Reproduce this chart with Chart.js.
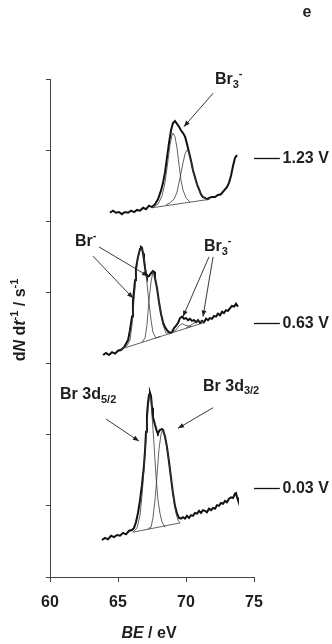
<!DOCTYPE html>
<html><head><meta charset="utf-8">
<script src="https://cdn.jsdelivr.net/npm/chart.js@4.4.1/dist/chart.umd.min.js"></script>
<style>html,body{margin:0;padding:0;background:#fff;}canvas{display:block;}</style>
</head><body>
<canvas id="c" width="332" height="644"></canvas>
<script>
// ---------- DATA (BE / eV , dN dt^-1 / s^-1 in arbitrary offset units) ----------
const xTicks = [60, 65, 70, 75];
const potentials = ["1.23 V", "0.63 V", "0.03 V"];
const potentialLevels = [5.89, 3.57, 1.25];

// 1.23 V
const env123 = [[64.41,5.12],[64.63,5.15],[64.85,5.12],[65.07,5.13],[65.29,5.10],[65.51,5.13],[65.74,5.12],[65.96,5.15],[66.18,5.13],[66.40,5.16],[66.62,5.15],[66.84,5.19],[67.06,5.17],[67.28,5.22],[67.50,5.20],[67.72,5.24],[67.94,5.31],[68.16,5.43],[68.31,5.54],[68.46,5.69],[68.60,5.89],[68.75,6.10],[68.90,6.28],[69.04,6.38],[69.19,6.41],[69.34,6.37],[69.49,6.33],[69.63,6.28],[69.78,6.24],[69.93,6.19],[70.07,6.09],[70.22,5.97],[70.37,5.85],[70.51,5.72],[70.66,5.62],[70.81,5.52],[70.96,5.45],[71.10,5.38],[71.25,5.34],[71.40,5.33],[71.54,5.31],[71.69,5.33],[71.91,5.34],[72.13,5.34],[72.35,5.37],[72.57,5.38],[72.79,5.43],[73.01,5.48],[73.16,5.54],[73.31,5.64],[73.46,5.78],[73.60,5.89],[73.75,5.93]];
const cmpA123 = [[67.50,5.19],[67.94,5.24],[68.24,5.36],[68.46,5.55],[68.68,5.86],[68.82,6.07],[68.97,6.21],[69.04,6.24],[69.19,6.19],[69.34,6.03],[69.49,5.79],[69.63,5.58],[69.78,5.44],[70.00,5.33],[70.29,5.27]];
const cmpB123 = [[68.53,5.23],[68.82,5.26],[69.12,5.31],[69.34,5.41],[69.56,5.61],[69.78,5.82],[69.93,5.95],[70.07,6.00],[70.22,5.97],[70.37,5.85],[70.51,5.72],[70.66,5.61],[70.81,5.51],[71.03,5.41],[71.25,5.34],[71.54,5.31]];
const base123 = [[67.50,5.19],[71.76,5.31]];

// 0.63 V
const env063 = [[63.90,3.12],[64.12,3.15],[64.34,3.12],[64.56,3.16],[64.78,3.14],[65.00,3.18],[65.22,3.19],[65.44,3.23],[65.59,3.28],[65.74,3.33],[65.88,3.47],[66.03,3.66],[66.10,3.89],[66.18,4.03],[66.25,4.17],[66.32,4.34],[66.47,4.50],[66.62,4.61],[66.69,4.64],[66.76,4.63],[66.84,4.55],[66.91,4.46],[66.99,4.34],[67.06,4.26],[67.13,4.22],[67.28,4.23],[67.43,4.27],[67.57,4.30],[67.65,4.29],[67.72,4.20],[67.87,4.06],[68.01,3.87],[68.16,3.70],[68.31,3.58],[68.46,3.51],[68.60,3.47],[68.82,3.43],[68.97,3.44],[69.12,3.50],[69.26,3.53],[69.41,3.57],[69.56,3.64],[69.71,3.66],[69.85,3.63],[70.00,3.64],[70.15,3.61],[70.29,3.63],[70.44,3.60],[70.59,3.61],[70.74,3.58],[70.88,3.61],[71.03,3.57],[71.18,3.60],[71.32,3.58],[71.47,3.63],[71.62,3.61],[71.76,3.64],[71.91,3.63],[72.06,3.67],[72.21,3.66],[72.35,3.70],[72.50,3.68],[72.65,3.73],[72.79,3.71],[72.94,3.75],[73.09,3.74],[73.24,3.78],[73.38,3.81],[73.53,3.80],[73.68,3.84],[73.82,3.80]];
const cmpA063 = [[65.29,3.21],[65.66,3.25],[65.88,3.33],[66.03,3.54],[66.18,3.89],[66.32,4.25],[66.47,4.48],[66.62,4.60],[66.73,4.64],[66.84,4.57],[66.99,4.39],[67.13,4.13],[67.28,3.85],[67.43,3.61],[67.57,3.44],[67.79,3.36],[68.09,3.38]];
const cmpB063 = [[66.76,3.30],[66.99,3.36],[67.13,3.54],[67.28,3.89],[67.43,4.15],[67.57,4.29],[67.72,4.23],[67.87,4.06],[68.01,3.87],[68.16,3.70],[68.31,3.54],[68.53,3.43],[68.82,3.43]];
const cmpC063 = [[68.97,3.44],[69.26,3.47],[69.49,3.53],[69.71,3.56],[69.93,3.54],[70.15,3.53],[70.37,3.52]];
const cmpD063 = [[70.00,3.50],[70.29,3.53],[70.59,3.57],[70.88,3.60],[71.18,3.59],[71.47,3.59]];
const base063 = [[65.00,3.19],[71.40,3.58]];

// 0.03 V
const env003 = [[63.82,0.52],[64.04,0.55],[64.26,0.53],[64.49,0.58],[64.71,0.56],[64.93,0.59],[65.15,0.58],[65.37,0.62],[65.59,0.60],[65.81,0.65],[66.03,0.66],[66.18,0.69],[66.32,0.77],[66.47,0.90],[66.62,1.08],[66.76,1.29],[66.91,1.57],[66.99,1.79],[67.06,2.04],[67.13,2.28],[67.21,2.46],[67.28,2.56],[67.35,2.59],[67.43,2.54],[67.50,2.38],[67.57,2.25],[67.72,2.14],[67.87,2.04],[67.94,2.02],[68.09,2.07],[68.24,2.08],[68.31,2.07],[68.46,1.97],[68.60,1.83],[68.75,1.62],[68.90,1.39],[69.04,1.18],[69.19,1.00],[69.34,0.89],[69.49,0.83],[69.63,0.82],[69.78,0.84],[69.93,0.82],[70.07,0.86],[70.22,0.83],[70.37,0.87],[70.51,0.86],[70.66,0.90],[70.81,0.89],[70.96,0.93],[71.10,0.90],[71.25,0.94],[71.40,0.93],[71.54,0.91],[71.69,0.96],[71.84,0.94],[71.99,0.97],[72.13,0.96],[72.28,1.01],[72.43,1.00],[72.57,1.04],[72.72,1.03],[72.87,1.07],[73.01,1.05],[73.16,1.10],[73.31,1.12],[73.46,1.11],[73.60,1.17],[73.68,1.18],[73.75,1.12],[73.82,1.08]];
const cmpA003 = [[66.10,0.63],[66.40,0.69],[66.62,0.87],[66.76,1.13],[66.91,1.50],[67.06,1.93],[67.21,2.35],[67.32,2.56],[67.43,2.49],[67.50,2.28],[67.65,1.86],[67.79,1.43],[67.94,1.08],[68.09,0.89],[68.24,0.77],[68.46,0.70]];
const cmpB003 = [[67.21,0.68],[67.43,0.70],[67.57,0.83],[67.72,1.08],[67.87,1.43],[68.01,1.79],[68.16,2.00],[68.27,2.07],[68.38,2.02],[68.53,1.90],[68.68,1.72],[68.82,1.50],[68.97,1.27],[69.12,1.05],[69.26,0.90],[69.41,0.80],[69.56,0.76]];
const base003 = [[66.10,0.63],[69.56,0.76]];

// ---------- CHART ----------
const FONT = '"Liberation Sans", Arial, sans-serif';
const TXT = '#1e1e1e';
const pts = a => a.map(p => ({x: p[0], y: p[1]}));
const thin = d => ({data: pts(d), borderColor: '#3a3a3a', borderWidth: 0.8, pointRadius: 0, fill: false, tension: 0});
const thick = d => ({data: pts(d), borderColor: '#111', borderWidth: 2, pointRadius: 0, fill: false, tension: 0});

function rich(ctx, x, y, parts, size, align) {
  const fontOf = p => {
    const s = p[1] === 'sub' || p[1] === 'sup' ? Math.round(size * 0.68) : size;
    return (p[1] === 'i' ? 'italic ' : '') + 'bold ' + s + 'px ' + FONT;
  };
  let w = 0;
  parts.forEach(p => { ctx.font = fontOf(p); w += ctx.measureText(p[0]).width; });
  let cx = align === 'center' ? x - w / 2 : x;
  ctx.textAlign = 'left';
  ctx.textBaseline = 'alphabetic';
  parts.forEach(p => {
    ctx.font = fontOf(p);
    let dy = 0;
    if (p[1] === 'sub') dy = size * 0.22;
    if (p[1] === 'sup') dy = -size * 0.42;
    ctx.fillText(p[0], cx, y + dy);
    cx += ctx.measureText(p[0]).width;
  });
}
function arrow(ctx, x1, y1, x2, y2) {
  ctx.beginPath(); ctx.moveTo(x1, y1); ctx.lineTo(x2, y2); ctx.stroke();
  const a = Math.atan2(y2 - y1, x2 - x1), L = 6, W = 2.4;
  ctx.beginPath();
  ctx.moveTo(x2, y2);
  ctx.lineTo(x2 - L * Math.cos(a) + W * Math.sin(a), y2 - L * Math.sin(a) - W * Math.cos(a));
  ctx.lineTo(x2 - L * Math.cos(a) - W * Math.sin(a), y2 - L * Math.sin(a) + W * Math.cos(a));
  ctx.closePath(); ctx.fill();
}

const annot = {
  id: 'annot',
  afterDraw(chart) {
    const {ctx, scales: {x, y}} = chart;
    const X = v => x.getPixelForValue(v), Y = v => y.getPixelForValue(v);
    ctx.save();
    ctx.fillStyle = TXT; ctx.strokeStyle = '#222'; ctx.lineWidth = 0.9;
    // arrows (BE, level) -> (BE, level)
    [[71.99,6.80,69.85,6.33],
     [63.16,4.51,66.10,3.92],[63.60,4.64,67.21,4.23],
     [71.69,4.50,69.78,3.66],[71.99,4.50,71.25,3.66],
     [64.12,2.22,66.54,1.91],[71.99,2.38,69.41,2.09]
    ].forEach(a => arrow(ctx, X(a[0]), Y(a[1]), X(a[2]), Y(a[3])));
    // labels
    rich(ctx, X(72.13), Y(6.93), [['Br',''],['3','sub'],['-','sup']], 16);
    rich(ctx, X(61.84), Y(4.65), [['Br',''],['-','sup']], 16);
    rich(ctx, X(71.32), Y(4.58), [['Br',''],['3','sub'],['-','sup']], 16);
    rich(ctx, X(60.74), Y(2.50), [['Br 3d',''],['5/2','sub']], 16);
    rich(ctx, X(71.25), Y(2.62), [['Br 3d',''],['3/2','sub']], 16);
    // potentials
    ctx.lineWidth = 1.3; ctx.strokeStyle = '#111';
    potentials.forEach((p, i) => {
      const yy = Math.round(Y(potentialLevels[i])) + 0.5;
      ctx.beginPath(); ctx.moveTo(X(75), yy); ctx.lineTo(X(76.9), yy); ctx.stroke();
      ctx.font = 'bold 16px ' + FONT; ctx.textAlign = 'left'; ctx.textBaseline = 'middle';
      ctx.fillText(p, X(77.1), yy);
    });
    // axis titles
    rich(ctx, (x.left + x.right) / 2 - 3, 638, [['BE','i'],[' / eV','']], 16, 'center');
    ctx.save();
    ctx.translate(25, (y.top + y.bottom) / 2 - 8);
    ctx.rotate(-Math.PI / 2);
    rich(ctx, 0, 0, [['d',''],['N','i'],[' d',''],['t','i'],['-1','sup'],[' / s',''],['-1','sup']], 16, 'center');
    ctx.restore();
    // panel letter
    ctx.font = 'bold 16px ' + FONT; ctx.textAlign = 'center'; ctx.textBaseline = 'alphabetic';
    ctx.fillText('e', 307, 17);
    ctx.restore();
  }
};

new Chart(document.getElementById('c'), {
  type: 'line',
  data: {datasets: [
    thin(base123), thin(cmpA123), thin(cmpB123), thick(env123),
    thin(base063), thin(cmpA063), thin(cmpB063), thin(cmpC063), thin(cmpD063), thick(env063),
    thin(base003), thin(cmpA003), thin(cmpB003), thick(env003)
  ]},
  options: {
    responsive: false, animation: false, devicePixelRatio: 1,
    layout: {padding: {top: 79, right: 78, left: 0, bottom: 0}},
    plugins: {legend: {display: false}, tooltip: {enabled: false}},
    scales: {
      x: {type: 'linear', min: 60, max: 75,
          afterBuildTicks: s => { s.ticks = xTicks.map(v => ({value: v})); },
          ticks: {color: TXT, font: {family: FONT, size: 16, weight: 'bold'}, padding: 11, maxRotation: 0},
          grid: {drawOnChartArea: false, drawTicks: true, tickLength: 5, color: '#444', lineWidth: 1},
          border: {color: '#444', width: 1},
          afterFit: s => { s.height = 67; s.paddingLeft = 0; s.paddingRight = 0; }},
      y: {type: 'linear', min: 0, max: 7,
          ticks: {stepSize: 1, display: false},
          grid: {drawOnChartArea: false, drawTicks: true, tickLength: 4, color: '#444', lineWidth: 1},
          border: {color: '#444', width: 1},
          afterFit: s => { s.width = 50; s.paddingTop = 0; s.paddingBottom = 0; }}
    }
  },
  plugins: [annot]
});
</script>
</body></html>
